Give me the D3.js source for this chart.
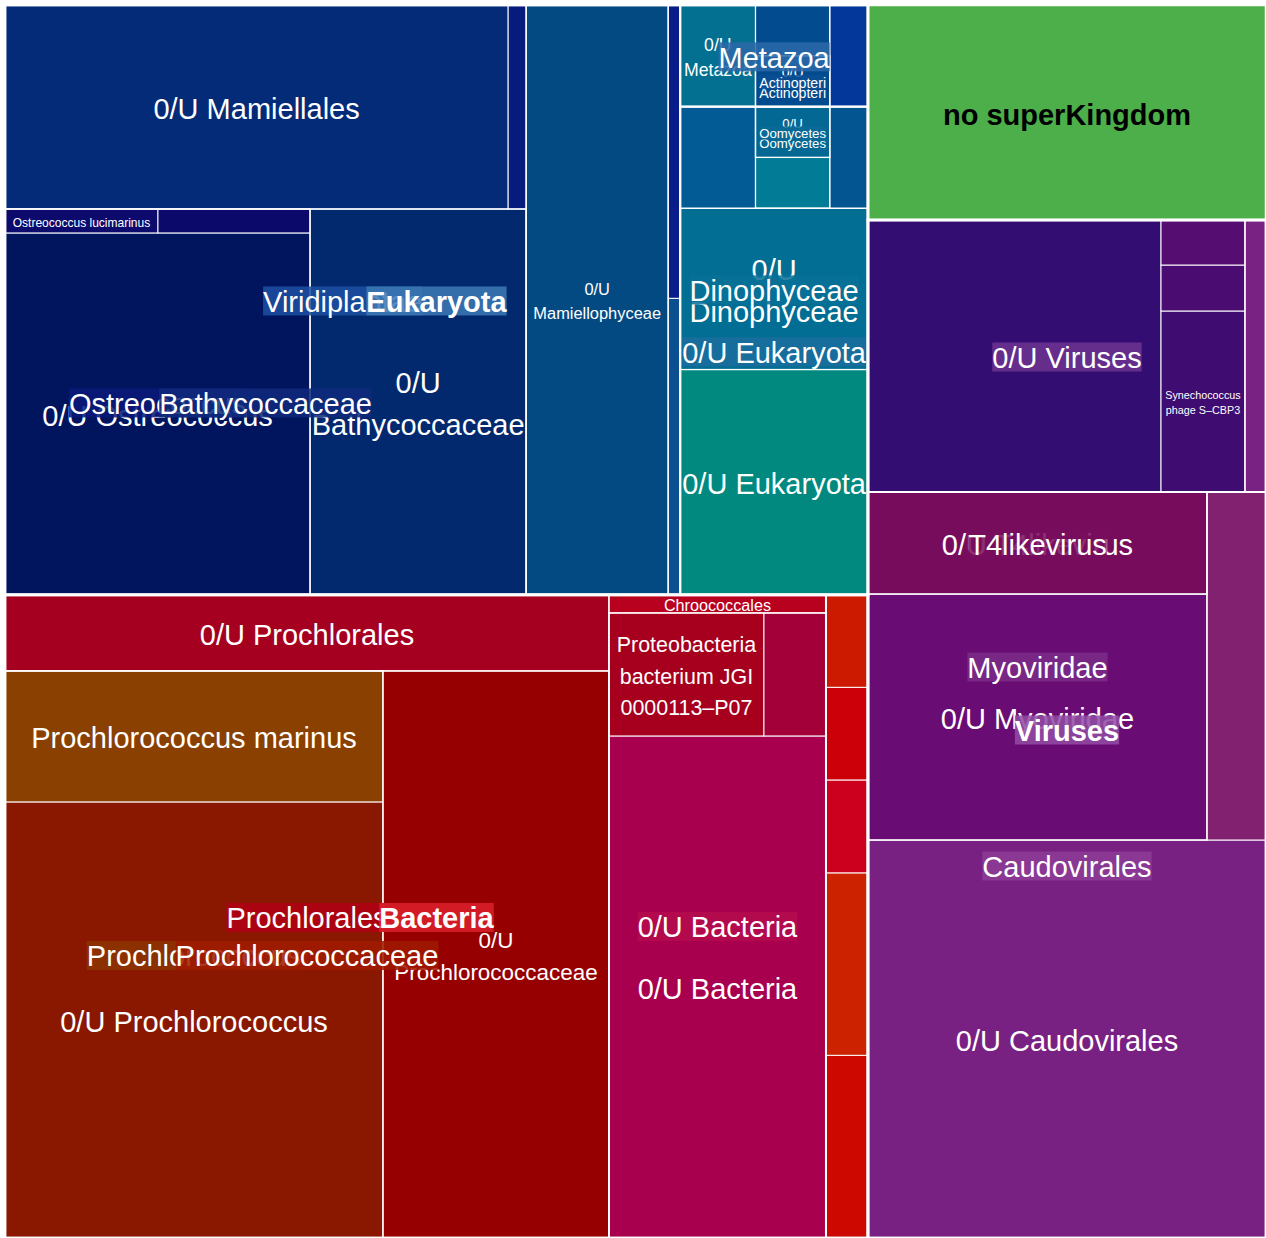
<!DOCTYPE html>
<meta charset="utf-8">
<script src="https://cdn.jsdelivr.net/npm/d3@7"></script>
<style>
    body { margin: 0; background: #fff; }
    text { font-family: "Liberation Sans", Arial, Helvetica, sans-serif; }
</style>
<body>
<svg width="1266" height="1238"></svg>
</body>
<script>

    // taxonomy of every leaf, levels split by "|"
    var leafPaths = [
        "Eukaryota|Viridiplantae|Mamiellophyceae|Mamiellales|0/U Mamiellales",
        "Eukaryota|Viridiplantae|Mamiellophyceae|Mamiellales|Mamiellaceae",
        "Eukaryota|Viridiplantae|Mamiellophyceae|Mamiellales|Bathycoccaceae|Ostreococcus|0/U Ostreococcus",
        "Eukaryota|Viridiplantae|Mamiellophyceae|Mamiellales|Bathycoccaceae|Ostreococcus|Ostreococcus lucimarinus",
        "Eukaryota|Viridiplantae|Mamiellophyceae|Mamiellales|Bathycoccaceae|Ostreococcus|Ostreococcus tauri",
        "Eukaryota|Viridiplantae|Mamiellophyceae|Mamiellales|Bathycoccaceae|0/U Bathycoccaceae",
        "Eukaryota|Viridiplantae|Mamiellophyceae|0/U Mamiellophyceae",
        "Eukaryota|Viridiplantae|Chlorophyceae",
        "Eukaryota|Viridiplantae|Trebouxiophyceae",
        "Eukaryota|Metazoa|0/U Metazoa",
        "Eukaryota|Metazoa|Chordata|Actinopteri|0/U Actinopteri",
        "Eukaryota|Metazoa|Chordata|Mammalia",
        "Eukaryota|Metazoa|Arthropoda",
        "Eukaryota|0/U Eukaryota|0/U Eukaryota",
        "Eukaryota|0/U Eukaryota|Dinophyceae|0/U Dinophyceae",
        "Eukaryota|0/U Eukaryota|Bacillariophyceae",
        "Eukaryota|0/U Eukaryota|Stramenopiles|Pelagophyceae",
        "Eukaryota|0/U Eukaryota|Stramenopiles|Oomycetes|0/U Oomycetes",
        "Eukaryota|0/U Eukaryota|Haptophyta",
        "Bacteria|0/U Bacteria|Prochlorales|0/U Prochlorales",
        "Bacteria|0/U Bacteria|Prochlorales|Prochlorococcaceae|Prochlorococcus|0/U Prochlorococcus",
        "Bacteria|0/U Bacteria|Prochlorales|Prochlorococcaceae|Prochlorococcus|Prochlorococcus marinus",
        "Bacteria|0/U Bacteria|Prochlorales|Prochlorococcaceae|0/U Prochlorococcaceae",
        "Bacteria|0/U Bacteria|0/U Bacteria|0/U Bacteria",
        "Bacteria|0/U Bacteria|0/U Bacteria|Proteobacteria bacterium JGI 0000113–P07",
        "Bacteria|0/U Bacteria|0/U Bacteria|SAR11 cluster",
        "Bacteria|0/U Bacteria|Chroococcales",
        "Bacteria|Proteobacteria",
        "Bacteria|Bacteroidetes",
        "Bacteria|Actinobacteria",
        "Bacteria|Firmicutes",
        "Bacteria|Planctomycetes",
        "Viruses|Caudovirales|0/U Caudovirales",
        "Viruses|Caudovirales|Myoviridae|0/U Myoviridae",
        "Viruses|Caudovirales|Myoviridae|T4likevirus|0/U T4likevirus",
        "Viruses|Caudovirales|Podoviridae",
        "Viruses|0/U Viruses|unclassified phages|0/U Viruses",
        "Viruses|0/U Viruses|unclassified phages|Synechococcus phage S–CBP3",
        "Viruses|0/U Viruses|unclassified phages|Prochlorococcus phage P–SSM2",
        "Viruses|0/U Viruses|unclassified phages|Synechococcus phage S–SM1",
        "Viruses|0/U Viruses|Phycodnaviridae",
        "no superKingdom"
    ];

    // read counts (size of each rectangle)
    var leafValues = [
        10261, 367, 11041, 367, 365, 8338, 8378, 356, 352,
        765, 378, 377, 388,
        4230, 3027, 765, 378, 377, 388,
        4590, 16481, 4952, 12814,
        10893, 1907, 763, 391,
        767, 766, 390, 389, 388,
        15840, 8339, 3458, 2053,
        7970, 1520, 386, 378, 571,
        8557
    ];

    // rectangles whose label is not printed
    var unlabeled = [
        "Eukaryota|Viridiplantae|Mamiellophyceae",
        "Eukaryota|Viridiplantae|Mamiellophyceae|Mamiellales",
        "Eukaryota|Viridiplantae|Mamiellophyceae|Mamiellales|Mamiellaceae",
        "Eukaryota|Viridiplantae|Mamiellophyceae|Mamiellales|Bathycoccaceae|Ostreococcus|Ostreococcus tauri",
        "Eukaryota|Viridiplantae|Chlorophyceae",
        "Eukaryota|Viridiplantae|Trebouxiophyceae",
        "Eukaryota|Metazoa|Chordata",
        "Eukaryota|Metazoa|Chordata|Mammalia",
        "Eukaryota|Metazoa|Arthropoda",
        "Eukaryota|0/U Eukaryota|Bacillariophyceae",
        "Eukaryota|0/U Eukaryota|Stramenopiles",
        "Eukaryota|0/U Eukaryota|Stramenopiles|Pelagophyceae",
        "Eukaryota|0/U Eukaryota|Haptophyta",
        "Bacteria|0/U Bacteria",
        "Bacteria|0/U Bacteria|0/U Bacteria|SAR11 cluster",
        "Bacteria|Proteobacteria",
        "Bacteria|Bacteroidetes",
        "Bacteria|Actinobacteria",
        "Bacteria|Firmicutes",
        "Bacteria|Planctomycetes",
        "Viruses|Caudovirales|Podoviridae",
        "Viruses|0/U Viruses|unclassified phages",
        "Viruses|0/U Viruses|unclassified phages|0/U Viruses",
        "Viruses|0/U Viruses|unclassified phages|Prochlorococcus phage P–SSM2",
        "Viruses|0/U Viruses|unclassified phages|Synechococcus phage S–SM1",
        "Viruses|0/U Viruses|Phycodnaviridae"
    ];

    //颜色 - leaf fills
    var leafColors = {
        "Eukaryota|Viridiplantae|Mamiellophyceae|Mamiellales|0/U Mamiellales": "#032b78",
        "Eukaryota|Viridiplantae|Mamiellophyceae|Mamiellales|Mamiellaceae": "#061b7c",
        "Eukaryota|Viridiplantae|Mamiellophyceae|Mamiellales|Bathycoccaceae|Ostreococcus|0/U Ostreococcus": "#01155f",
        "Eukaryota|Viridiplantae|Mamiellophyceae|Mamiellales|Bathycoccaceae|Ostreococcus|Ostreococcus lucimarinus": "#0c0b6d",
        "Eukaryota|Viridiplantae|Mamiellophyceae|Mamiellales|Bathycoccaceae|Ostreococcus|Ostreococcus tauri": "#0b0a6b",
        "Eukaryota|Viridiplantae|Mamiellophyceae|Mamiellales|Bathycoccaceae|0/U Bathycoccaceae": "#02296e",
        "Eukaryota|Viridiplantae|Mamiellophyceae|0/U Mamiellophyceae": "#044a82",
        "Eukaryota|Viridiplantae|Chlorophyceae": "#0a4f8f",
        "Eukaryota|Viridiplantae|Trebouxiophyceae": "#081c8a",
        "Eukaryota|Metazoa|0/U Metazoa": "#036f91",
        "Eukaryota|Metazoa|Chordata|Actinopteri|0/U Actinopteri": "#034b8f",
        "Eukaryota|Metazoa|Chordata|Mammalia": "#034b8f",
        "Eukaryota|Metazoa|Arthropoda": "#03389a",
        "Eukaryota|0/U Eukaryota|0/U Eukaryota": "#01897f",
        "Eukaryota|0/U Eukaryota|Dinophyceae|0/U Dinophyceae": "#036e94",
        "Eukaryota|0/U Eukaryota|Bacillariophyceae": "#035b95",
        "Eukaryota|0/U Eukaryota|Stramenopiles|Pelagophyceae": "#027b96",
        "Eukaryota|0/U Eukaryota|Stramenopiles|Oomycetes|0/U Oomycetes": "#036894",
        "Eukaryota|0/U Eukaryota|Haptophyta": "#035592",
        "Bacteria|0/U Bacteria|Prochlorales|0/U Prochlorales": "#a60021",
        "Bacteria|0/U Bacteria|Prochlorales|Prochlorococcaceae|Prochlorococcus|0/U Prochlorococcus": "#8a1800",
        "Bacteria|0/U Bacteria|Prochlorales|Prochlorococcaceae|Prochlorococcus|Prochlorococcus marinus": "#8a4000",
        "Bacteria|0/U Bacteria|Prochlorales|Prochlorococcaceae|0/U Prochlorococcaceae": "#970000",
        "Bacteria|0/U Bacteria|0/U Bacteria|0/U Bacteria": "#a8004f",
        "Bacteria|0/U Bacteria|0/U Bacteria|Proteobacteria bacterium JGI 0000113–P07": "#a6001e",
        "Bacteria|0/U Bacteria|0/U Bacteria|SAR11 cluster": "#a3003a",
        "Bacteria|0/U Bacteria|Chroococcales": "#b8001f",
        "Bacteria|Proteobacteria": "#cc0800",
        "Bacteria|Bacteroidetes": "#cc2200",
        "Bacteria|Actinobacteria": "#cc001e",
        "Bacteria|Firmicutes": "#cc0009",
        "Bacteria|Planctomycetes": "#cc1a00",
        "Viruses|Caudovirales|0/U Caudovirales": "#792183",
        "Viruses|Caudovirales|Myoviridae|0/U Myoviridae": "#690c73",
        "Viruses|Caudovirales|Myoviridae|T4likevirus|0/U T4likevirus": "#780c5c",
        "Viruses|Caudovirales|Podoviridae": "#82216f",
        "Viruses|0/U Viruses|unclassified phages|0/U Viruses": "#330d71",
        "Viruses|0/U Viruses|unclassified phages|Synechococcus phage S–CBP3": "#3f0c71",
        "Viruses|0/U Viruses|unclassified phages|Prochlorococcus phage P–SSM2": "#4a0c70",
        "Viruses|0/U Viruses|unclassified phages|Synechococcus phage S–SM1": "#560d72",
        "Viruses|0/U Viruses|Phycodnaviridae": "#7a2284",
        "no superKingdom": "#4daf4a"
    };

    // label background of the aggregated levels
    var groupColors = {
        "Eukaryota": "#3b79b4",
        "Eukaryota|Viridiplantae": "#1d4fa1",
        "Eukaryota|Viridiplantae|Mamiellophyceae|Mamiellales|Bathycoccaceae": "#0f2a7b",
        "Eukaryota|Viridiplantae|Mamiellophyceae|Mamiellales|Bathycoccaceae|Ostreococcus": "#0b1a79",
        "Eukaryota|Metazoa": "#2c69a8",
        "Eukaryota|Metazoa|Chordata|Actinopteri": "#0a4f93",
        "Eukaryota|0/U Eukaryota": "#1b6d9c",
        "Eukaryota|0/U Eukaryota|Dinophyceae": "#087097",
        "Eukaryota|0/U Eukaryota|Stramenopiles|Oomycetes": "#0a6a98",
        "Bacteria": "#db1f2b",
        "Bacteria|0/U Bacteria|Prochlorales": "#b10015",
        "Bacteria|0/U Bacteria|Prochlorales|Prochlorococcaceae": "#a01a00",
        "Bacteria|0/U Bacteria|Prochlorales|Prochlorococcaceae|Prochlorococcus": "#8c3400",
        "Bacteria|0/U Bacteria|0/U Bacteria": "#b50a4c",
        "Viruses": "#914ca3",
        "Viruses|Caudovirales": "#8c3c97",
        "Viruses|Caudovirales|Myoviridae": "#7b2c88",
        "Viruses|Caudovirales|Myoviridae|T4likevirus": "#7a0e5e",
        "Viruses|0/U Viruses": "#6d3391"
    };

    var width = 1266, height = 1238;
    var x0 = 5, y0 = 5;
    var baseSize = 29, lineGap = 1.45, shrink = 0.9;

    var svg = d3.select('svg').attr('width', width).attr('height', height);

    // build the table for stratify
    var table = [{id: "root", parentId: null, name: "", value: 0}];
    var seen = {root: true};
    leafPaths.forEach(function (p, i) {
        var parts = p.split("|");
        for (var j = 1; j <= parts.length; j++) {
            var id = parts.slice(0, j).join("|");
            if (seen[id]) continue;
            seen[id] = true;
            table.push({
                id: id,
                parentId: j == 1 ? "root" : parts.slice(0, j - 1).join("|"),
                name: parts[j - 1],
                value: j == parts.length ? leafValues[i] : 0
            });
        }
    });

    var root = d3.stratify()(table)
        .sum(function (d) { return d.value; })
        .sort(function (a, b) { return b.value - a.value; });

    /**
     * ordered treemap, pivot-by-size
     */
    function pivotBySize(parent, px0, py0, px1, py1) {
        placeList(parent.children, px0, py0, px1, py1);
    }

    function placeList(nodes, ax0, ay0, ax1, ay1) {
        if (!nodes.length) return;
        if (nodes.length == 1) {
            var n = nodes[0];
            n.x0 = ax0; n.y0 = ay0; n.x1 = ax1; n.y1 = ay1;
            return;
        }
        var total = d3.sum(nodes, function (d) { return d.value; });
        var pivot = nodes[0], rest = nodes.slice(1);
        var W = ax1 - ax0, H = ay1 - ay0, wide = W >= H;
        var bestK = 0, bestRatio = Infinity, acc = pivot.value;
        for (var k = 0; k <= rest.length; k++) {
            if (k > 0) acc += rest[k - 1].value;
            var a, b;
            if (wide) { a = W * acc / total; b = H * pivot.value / acc; }
            else { b = H * acc / total; a = W * pivot.value / acc; }
            var r = Math.max(a / b, b / a);
            if (r < bestRatio) { bestRatio = r; bestK = k; }
        }
        var l2 = rest.slice(0, bestK), l3 = rest.slice(bestK);
        var a2 = pivot.value + d3.sum(l2, function (d) { return d.value; });
        if (wide) {
            var cw = W * a2 / total, ph = H * pivot.value / a2;
            pivot.x0 = ax0; pivot.x1 = ax0 + cw; pivot.y0 = ay1 - ph; pivot.y1 = ay1;
            placeList(l2, ax0, ay0, ax0 + cw, ay1 - ph);
            placeList(l3, ax0 + cw, ay0, ax1, ay1);
        } else {
            var rh = H * a2 / total, pw = W * pivot.value / a2;
            pivot.x0 = ax0; pivot.x1 = ax0 + pw; pivot.y0 = ay1 - rh; pivot.y1 = ay1;
            placeList(l2, ax0 + pw, ay1 - rh, ax1, ay1);
            placeList(l3, ax0, ay0, ax1, ay1 - rh);
        }
    }

    d3.treemap()
        .tile(pivotBySize)
        .size([width - x0, height - y0])(root);

    var g = svg.append('g').attr('transform', 'translate(' + x0 + ',' + y0 + ')');

    // 色块
    g.selectAll('rect.leaf')
        .data(root.leaves())
        .enter()
        .append('rect')
        .attr('class', 'leaf')
        .attr('x', function (d) { return d.x0; })
        .attr('y', function (d) { return d.y0; })
        .attr('width', function (d) { return d.x1 - d.x0; })
        .attr('height', function (d) { return d.y1 - d.y0; })
        .attr('fill', function (d) { return leafColors[d.id]; })
        .attr('stroke', 'white')
        .attr('stroke-width', 1);

    // borders of the upper levels
    var groups = root.descendants().filter(function (d) { return d.depth > 0 && d.children; });
    groups.sort(function (a, b) { return b.depth - a.depth; });
    g.selectAll('rect.group')
        .data(groups)
        .enter()
        .append('rect')
        .attr('class', 'group')
        .attr('x', function (d) { return d.x0; })
        .attr('y', function (d) { return d.y0; })
        .attr('width', function (d) { return d.x1 - d.x0; })
        .attr('height', function (d) { return d.y1 - d.y0; })
        .attr('fill', 'none')
        .attr('stroke', 'white')
        .attr('stroke-width', function (d) { return d.depth == 1 ? 2.5 : (d.depth == 2 ? 2 : 1.3); });
    g.selectAll('rect.top')
        .data(root.children)
        .enter()
        .append('rect')
        .attr('x', function (d) { return d.x0; })
        .attr('y', function (d) { return d.y0; })
        .attr('width', function (d) { return d.x1 - d.x0; })
        .attr('height', function (d) { return d.y1 - d.y0; })
        .attr('fill', 'none')
        .attr('stroke', 'white')
        .attr('stroke-width', 2.5);

    // 文字
    var ctx = document.createElement('canvas').getContext('2d');
    function textWidth(t, bold) {
        ctx.font = (bold ? 'bold ' : '') + '100px "Liberation Sans", Arial, sans-serif';
        return ctx.measureText(t).width / 100 * baseSize;
    }

    function splits(words, n) {
        if (n == 1) return [[words.join(" ")]];
        var out = [];
        for (var i = 1; i <= words.length - n + 1; i++) {
            var head = words.slice(0, i).join(" ");
            splits(words.slice(i), n - 1).forEach(function (r) { out.push([head].concat(r)); });
        }
        return out;
    }

    function fitLabel(name, w, h, bold) {
        var words = name.split(" "), best = null;
        for (var n = 1; n <= words.length; n++) {
            splits(words, n).forEach(function (lines) {
                var tw = d3.max(lines, function (l) { return textWidth(l, bold); });
                var th = baseSize * (1 + lineGap * (lines.length - 1));
                var raw = Math.min(w / tw, h / th), eff = Math.min(raw, 1);
                if (!best || eff > best.eff + 1e-6) best = {lines: lines, tw: tw, raw: raw, eff: eff};
            });
        }
        var fs = best.raw >= 1 ? baseSize : baseSize * best.raw * shrink;
        return {lines: best.lines, size: fs, width: best.tw * fs / baseSize};
    }

    var labelled = root.descendants().filter(function (d) {
        return d.depth > 0 && unlabeled.indexOf(d.id) < 0;
    });
    // leaves first, higher levels drawn last
    labelled.sort(function (a, b) {
        var ka = a.children ? a.depth : 99, kb = b.children ? b.depth : 99;
        return kb - ka;
    });

    var labelGroup = g.append('g');
    labelled.forEach(function (d) {
        var bold = d.depth == 1;
        var withBg = !!d.children || d.depth == 1;
        var colour = withBg ? (groupColors[d.id] || leafColors[d.id]) : leafColors[d.id];
        var fit = fitLabel(d.data.name, d.x1 - d.x0, d.y1 - d.y0, bold);
        var cx = (d.x0 + d.x1) / 2, cy = (d.y0 + d.y1) / 2 + 1;
        var lh = fit.size * lineGap, n = fit.lines.length;
        var top = cy - (n - 1) / 2 * lh;
        var txtClr = d3.hcl(colour).l > 60 ? "black" : "white";

        if (withBg) {
            labelGroup.append('rect')
                .attr('x', cx - fit.width / 2)
                .attr('y', top - fit.size / 2)
                .attr('width', fit.width)
                .attr('height', (n - 1) * lh + fit.size)
                .attr('fill', colour)
                .attr('fill-opacity', 220 / 255);
        }
        fit.lines.forEach(function (l, i) {
            labelGroup.append('text')
                .attr('x', cx)
                .attr('y', top + i * lh + 0.38 * fit.size)
                .attr('text-anchor', 'middle')
                .style('font-size', fit.size + 'px')
                .style('font-weight', bold ? 'bold' : 'normal')
                .attr('fill', txtClr)
                .text(l);
        });
    });

</script>
